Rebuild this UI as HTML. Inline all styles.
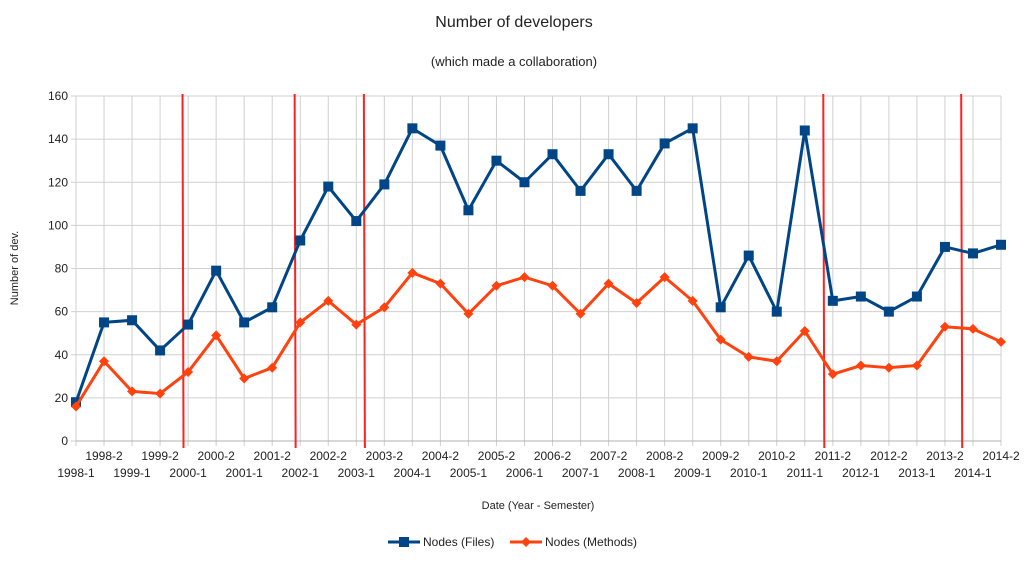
<!DOCTYPE html>
<html><head><meta charset="utf-8"><style>
body{margin:0;background:#fff;font-family:"Liberation Sans",sans-serif;}
svg text{font-family:"Liberation Sans",sans-serif;fill:#222;}
</style></head><body>
<svg id="chart" width="1028" height="559" xmlns="http://www.w3.org/2000/svg">
<text x="514" y="27" font-size="16" text-anchor="middle">Number of developers</text>
<text x="514" y="66" font-size="13" text-anchor="middle">(which made a collaboration)</text>
<text x="0" y="0" font-size="11" text-anchor="middle" transform="translate(18,268) rotate(-90)">Number of dev.</text>
<text x="538" y="509" font-size="11" text-anchor="middle">Date (Year - Semester)</text>
<g id="grid"></g><g id="marks"></g>
<g>
<g><line x1="388" y1="542" x2="420" y2="542" stroke="#004586" stroke-width="3"/><rect x="399" y="537" width="10" height="10" fill="#004586"/><text x="423" y="546" font-size="12">Nodes (Files)</text></g>
<g><line x1="510" y1="542" x2="542" y2="542" stroke="#ff420e" stroke-width="3"/><polygon points="526,537 531,542 526,547 521,542" fill="#ff420e"/><text x="545" y="546" font-size="12">Nodes (Methods)</text></g>
</g>
</svg>
<script>
const categories=[];
for(let y=1998;y<=2014;y++){categories.push(y+"-1");categories.push(y+"-2");}
const filesValues=[18,55,56,42,54,79,55,62,93,118,102,119,145,137,107,130,120,133,116,133,116,138,145,62,86,60,144,65,67,60,67,90,87,91];
const methodsValues=[16,37,23,22,32,49,29,34,55,65,54,62,78,73,59,72,76,72,59,73,64,76,65,47,39,37,51,31,35,34,35,53,52,46];
const yTicks=[0,20,40,60,80,100,120,140,160];
const redLinePositions=[3.8,7.8,10.27,26.66,31.58];
const NS="http://www.w3.org/2000/svg";
const X0=76,X1=1001,Y0=441,Y1=96;
const xs=i=>X0+i*(X1-X0)/(categories.length-1);
const ys=v=>Y0-v*(Y0-Y1)/160;
function mk(tag,attrs,parent){const e=document.createElementNS(NS,tag);for(const k in attrs)e.setAttribute(k,attrs[k]);parent.appendChild(e);return e;}
const grid=document.getElementById('grid'),marks=document.getElementById('marks');
yTicks.forEach(t=>{
 const l=mk('line',{x1:X0-5,x2:X1,y1:ys(t),y2:ys(t),stroke:'#d0d0d0','stroke-width':1},grid);
 
 
 const tx=mk('text',{x:X0-8,y:ys(t)+4,'font-size':12,'text-anchor':'end'},grid);
 tx.textContent=t;
 
 
});
categories.forEach((c,i)=>{
 const l=mk('line',{x1:xs(i),x2:xs(i),y1:Y1,y2:Y0+5,stroke:'#d0d0d0','stroke-width':1},grid);
 
 
 const tx=mk('text',{x:xs(i),y:i%2?460:477,'font-size':12,'text-anchor':'middle'},grid);
 tx.textContent=c;
 
 
});
mk('line',{x1:X0,x2:X1,y1:Y0,y2:Y0,stroke:'#b0b0b0'},grid);
redLinePositions.forEach(p=>{
 const l=mk('line',{x1:xs(p),x2:xs(p)+1,y1:Y1-2,y2:Y0+7,stroke:'#ff2020','stroke-width':2},marks);
 
 
});
function series(vals,color,shape,name){
 const pl=mk('polyline',{points:vals.map((v,i)=>xs(i)+','+ys(v)).join(' '),fill:'none',stroke:color,'stroke-width':3,'stroke-linejoin':'round'},marks);
 
 
 vals.forEach((v,i)=>{
  const x=xs(i),y=ys(v);let m;
  if(shape==='sq')m=mk('rect',{x:x-5,y:y-5,width:10,height:10,fill:color},marks);
  else m=mk('polygon',{points:`${x},${y-5} ${x+5},${y} ${x},${y+5} ${x-5},${y}`,fill:color},marks);
  
  
 });
}
series(filesValues,'#004586','sq','files');
series(methodsValues,'#ff420e','di','methods');
</script>
</body></html>
